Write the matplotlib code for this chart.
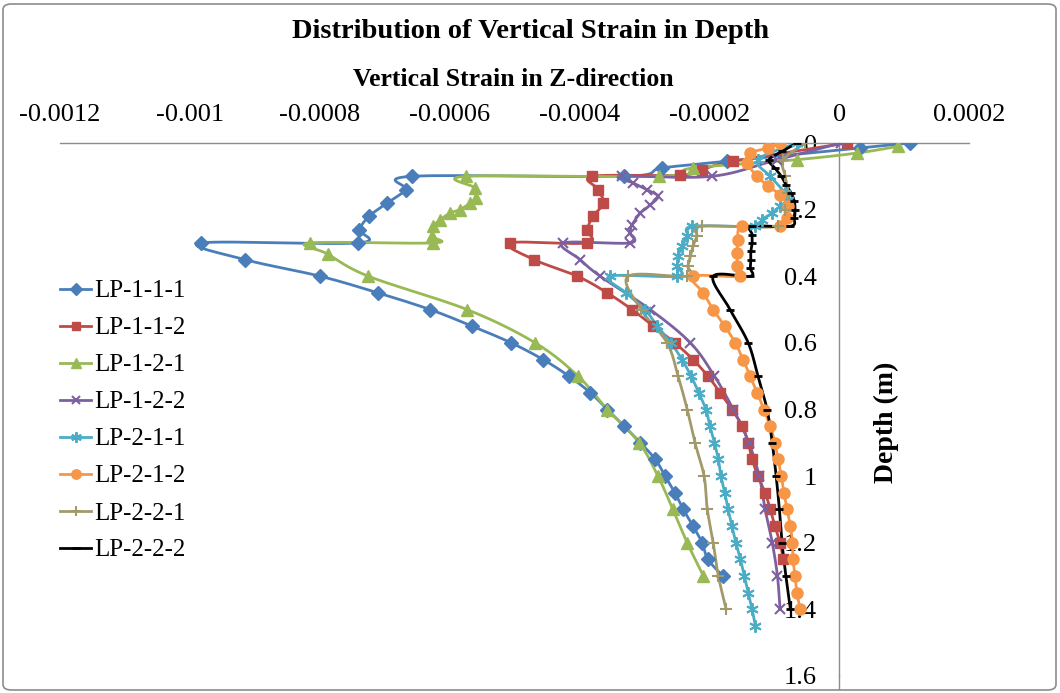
import numpy as np
import matplotlib
matplotlib.use("Agg")
import matplotlib.pyplot as plt
from matplotlib.lines import Line2D
from matplotlib.patches import FancyBboxPatch

plt.rcParams['font.family'] = ['Liberation Serif', 'DejaVu Serif']

# ---------------- data: depth (m) and vertical strain for each test ----------------
series_names = ['LP-1-1-1', 'LP-1-1-2', 'LP-1-2-1', 'LP-1-2-2',
                'LP-2-1-1', 'LP-2-1-2', 'LP-2-2-1', 'LP-2-2-2']

lp111_depth = [0, 0.015, 0.055, 0.075, 0.1, 0.1, 0.14, 0.18, 0.22, 0.26, 0.3, 0.3,
               0.35, 0.4, 0.45, 0.5, 0.55, 0.6, 0.65, 0.7, 0.75, 0.8, 0.85, 0.9,
               0.95, 1.0, 1.05, 1.1, 1.15, 1.2, 1.25, 1.3]
lp111_strain = [1.09e-4, 3.2e-5, -1.72e-4, -2.73e-4, -3.31e-4, -6.58e-4, -6.67e-4,
                -6.96e-4, -7.24e-4, -7.39e-4, -7.41e-4, -9.83e-4, -9.15e-4, -7.99e-4,
                -7.10e-4, -6.30e-4, -5.65e-4, -5.05e-4, -4.56e-4, -4.16e-4, -3.83e-4,
                -3.57e-4, -3.31e-4, -3.06e-4, -2.83e-4, -2.68e-4, -2.53e-4, -2.40e-4,
                -2.25e-4, -2.11e-4, -2.02e-4, -1.79e-4]

lp112_depth = [0, 0.055, 0.08, 0.097, 0.1, 0.14, 0.18, 0.22, 0.26, 0.3, 0.3, 0.35,
               0.4, 0.45, 0.5, 0.55, 0.6, 0.65, 0.7, 0.75, 0.8, 0.85, 0.9, 0.95,
               1.0, 1.05, 1.1, 1.15, 1.2, 1.25]
lp112_strain = [1.2e-5, -1.63e-4, -2.11e-4, -2.45e-4, -3.80e-4, -3.71e-4, -3.63e-4,
                -3.79e-4, -3.88e-4, -3.88e-4, -5.07e-4, -4.70e-4, -4.03e-4, -3.57e-4,
                -3.19e-4, -2.86e-4, -2.53e-4, -2.25e-4, -2.02e-4, -1.83e-4, -1.65e-4,
                -1.49e-4, -1.40e-4, -1.34e-4, -1.25e-4, -1.14e-4, -1.06e-4, -9.9e-5,
                -9.1e-5, -8.6e-5]

lp121_depth = [0.01, 0.03, 0.05, 0.075, 0.1, 0.1, 0.135, 0.165, 0.18, 0.2, 0.21,
               0.23, 0.25, 0.28, 0.3, 0.3, 0.333, 0.4, 0.5, 0.6, 0.7, 0.8, 0.9,
               1.0, 1.1, 1.2, 1.3]
lp121_strain = [9.1e-5, 2.8e-5, -6.5e-5, -2.25e-4, -2.77e-4, -5.74e-4, -5.61e-4,
                -5.59e-4, -5.68e-4, -5.84e-4, -5.99e-4, -6.14e-4, -6.25e-4, -6.27e-4,
                -6.25e-4, -8.15e-4, -7.88e-4, -7.25e-4, -5.73e-4, -4.68e-4, -4.02e-4,
                -3.57e-4, -3.08e-4, -2.79e-4, -2.56e-4, -2.34e-4, -2.09e-4]

lp122_depth = [0, 0.05, 0.1, 0.1, 0.12, 0.14, 0.16, 0.186, 0.21, 0.246, 0.27, 0.3,
               0.3, 0.35, 0.4, 0.5, 0.6, 0.7, 0.8, 0.9, 1.0, 1.1, 1.2, 1.3, 1.4]
lp122_strain = [3e-6, -9.5e-5, -1.96e-4, -3.34e-4, -3.17e-4, -2.96e-4, -2.79e-4,
                -2.91e-4, -3.06e-4, -3.19e-4, -3.22e-4, -3.22e-4, -4.25e-4, -3.99e-4,
                -3.68e-4, -2.91e-4, -2.29e-4, -1.92e-4, -1.63e-4, -1.39e-4, -1.23e-4,
                -1.14e-4, -1.03e-4, -9.5e-5, -9.1e-5]

lp211_depth = [0, 0.05, 0.1, 0.15, 0.17, 0.19, 0.21, 0.23, 0.25, 0.25, 0.28, 0.31,
               0.34, 0.37, 0.4, 0.4, 0.45, 0.5, 0.55, 0.6, 0.65, 0.7, 0.75, 0.8,
               0.85, 0.9, 0.95, 1.0, 1.05, 1.1, 1.15, 1.2, 1.25, 1.3, 1.35, 1.4, 1.45]
lp211_strain = [-6.5e-5, -1.25e-4, -1.06e-4, -8.3e-5, -7.9e-5, -9.1e-5, -1.03e-4,
                -1.19e-4, -1.29e-4, -2.26e-4, -2.34e-4, -2.42e-4, -2.48e-4, -2.49e-4,
                -2.49e-4, -3.53e-4, -3.28e-4, -2.99e-4, -2.80e-4, -2.59e-4, -2.42e-4,
                -2.28e-4, -2.16e-4, -2.05e-4, -1.99e-4, -1.92e-4, -1.86e-4, -1.82e-4,
                -1.76e-4, -1.71e-4, -1.65e-4, -1.59e-4, -1.52e-4, -1.46e-4, -1.40e-4,
                -1.34e-4, -1.29e-4]

lp212_depth = [0, 0.015, 0.03, 0.06, 0.1, 0.13, 0.156, 0.19, 0.225, 0.25, 0.25, 0.29,
               0.33, 0.37, 0.4, 0.4, 0.45, 0.5, 0.55, 0.6, 0.65, 0.7, 0.75, 0.8,
               0.85, 0.9, 0.95, 1.0, 1.05, 1.1, 1.15, 1.2, 1.25, 1.3, 1.35, 1.4]
lp212_strain = [-9.1e-5, -1.09e-4, -1.37e-4, -1.42e-4, -1.26e-4, -1.09e-4, -9.1e-5,
                -7.9e-5, -8.0e-5, -9.1e-5, -1.49e-4, -1.56e-4, -1.57e-4, -1.57e-4,
                -1.52e-4, -2.25e-4, -2.09e-4, -1.94e-4, -1.76e-4, -1.60e-4, -1.48e-4,
                -1.37e-4, -1.26e-4, -1.16e-4, -1.06e-4, -9.9e-5, -9.4e-5, -8.9e-5,
                -8.5e-5, -8.0e-5, -7.5e-5, -7.2e-5, -7.1e-5, -6.8e-5, -6.5e-5, -6.0e-5]

lp221_depth = [0, 0.05, 0.1, 0.15, 0.2, 0.25, 0.25, 0.28, 0.31, 0.34, 0.37, 0.4,
               0.4, 0.5, 0.6, 0.7, 0.8, 0.9, 1.0, 1.1, 1.2, 1.3, 1.4]
lp221_strain = [-5.2e-5, -8.6e-5, -8.3e-5, -7.9e-5, -8.3e-5, -9.4e-5, -2.11e-4,
                -2.19e-4, -2.25e-4, -2.29e-4, -2.33e-4, -2.34e-4, -3.25e-4, -3.05e-4,
                -2.65e-4, -2.48e-4, -2.34e-4, -2.22e-4, -2.08e-4, -2.03e-4, -1.94e-4,
                -1.86e-4, -1.74e-4]

lp222_depth = [0, 0.025, 0.05, 0.075, 0.1, 0.125, 0.15, 0.175, 0.2, 0.225, 0.25,
               0.25, 0.275, 0.3, 0.325, 0.35, 0.375, 0.4, 0.4, 0.5, 0.6, 0.7, 0.8,
               0.9, 1.0, 1.1, 1.2, 1.3, 1.4]
lp222_strain = [-6.5e-5, -8.8e-5, -1.08e-4, -9.9e-5, -8.9e-5, -8.2e-5, -7.4e-5,
                -6.9e-5, -6.8e-5, -6.9e-5, -7.5e-5, -1.34e-4, -1.34e-4, -1.34e-4,
                -1.36e-4, -1.36e-4, -1.37e-4, -1.37e-4, -1.94e-4, -1.68e-4, -1.40e-4,
                -1.25e-4, -1.11e-4, -1.03e-4, -9.7e-5, -9.2e-5, -8.8e-5, -8.2e-5,
                -7.5e-5]

x_ticks = [-0.0012, -0.001, -0.0008, -0.0006, -0.0004, -0.0002, 0, 0.0002]
x_tick_labels = ['-0.0012', '-0.001', '-0.0008', '-0.0006', '-0.0004', '-0.0002', '0', '0.0002']
y_ticks = [0, 0.2, 0.4, 0.6, 0.8, 1.0, 1.2, 1.4, 1.6]
y_tick_labels = ['0', '0.2', '0.4', '0.6', '0.8', '1', '1.2', '1.4', '1.6']

series_data = [
    (lp111_strain, lp111_depth),
    (lp112_strain, lp112_depth),
    (lp121_strain, lp121_depth),
    (lp122_strain, lp122_depth),
    (lp211_strain, lp211_depth),
    (lp212_strain, lp212_depth),
    (lp221_strain, lp221_depth),
    (lp222_strain, lp222_depth),
]

# ---------------- styles ----------------
styles = [
    dict(color='#4A7EBB', marker='D', ms=7.0, mew=1.0),
    dict(color='#BE4B48', marker='s', ms=7.5, mew=1.0),
    dict(color='#98B954', marker='^', ms=8.5, mew=1.0),
    dict(color='#7D60A0', marker='x', ms=7.5, mew=1.5),
    dict(color='#4BACC6', marker=(6, 2, 0), ms=9.0, mew=1.4),
    dict(color='#F79646', marker='o', ms=8.0, mew=1.0),
    dict(color='#A29A6A', marker='+', ms=9.0, mew=1.5),
    dict(color='#000000', marker='_', ms=6.0, mew=2.0),
]


def smooth_curve(x, y, steps=14):
    """Cubic Bezier smoothing through all points (Catmull-Rom tangents)."""
    pts = np.column_stack([x, y]).astype(float)
    if len(pts) < 3:
        return pts[:, 0], pts[:, 1]
    P = np.vstack([pts[0], pts, pts[-1]])
    t = np.linspace(0, 1, steps + 1)[1:][:, None]
    out = [pts[0:1]]
    for i in range(1, len(P) - 2):
        p0, p1, p2, p3 = P[i - 1], P[i], P[i + 1], P[i + 2]
        c1 = p1 + (p2 - p0) / 6.0
        c2 = p2 - (p3 - p1) / 6.0
        seg = ((1 - t) ** 3) * p1 + 3 * (1 - t) ** 2 * t * c1 + 3 * (1 - t) * t ** 2 * c2 + t ** 3 * p2
        out.append(seg)
    out = np.vstack(out)
    return out[:, 0], out[:, 1]


W, H = 1060, 693
fig = plt.figure(figsize=(W / 100, H / 100), dpi=100)
fig.patch.set_facecolor('white')

# outer chart border
fig.patches.append(FancyBboxPatch((3 / W, 3 / H), 1 - 7 / W, 1 - 7 / H,
                                  boxstyle='round,pad=0,rounding_size=0.008',
                                  transform=fig.transFigure, fill=False,
                                  edgecolor='#8C8C8C', linewidth=1.2))

ax = fig.add_axes([60 / W, 17 / H, 909 / W, 533 / H])
ax.set_xlim(-0.0012, 0.0002)
ax.set_ylim(1.6, 0)

for (sx, sy), st in zip(series_data, styles):
    cx, cy = smooth_curve(sx, sy)
    ax.plot(cx, cy, color=st['color'], lw=2.0, zorder=4, solid_capstyle='round')
    ax.plot(sx, sy, linestyle='none', marker=st['marker'], markersize=st['ms'],
            markeredgewidth=st['mew'], color=st['color'], markeredgecolor=st['color'],
            zorder=5)

# axes: strain axis on top, depth axis crossing at zero strain
for side in ('right', 'bottom'):
    ax.spines[side].set_visible(False)
ax.spines['top'].set_color('#8C8C8C')
ax.spines['top'].set_linewidth(1.0)
ax.spines['left'].set_position(('data', 0))
ax.spines['left'].set_color('#8C8C8C')
ax.spines['left'].set_linewidth(1.0)
ax.plot([0, 0], [1.6, 1.64], color='#8C8C8C', lw=1.0, clip_on=False, zorder=1)

ax.xaxis.tick_top()
ax.set_xticks(x_ticks)
ax.set_xticklabels(x_tick_labels)
ax.set_yticks(y_ticks)
ax.set_yticklabels(y_tick_labels)
ax.tick_params(axis='x', length=0, pad=12, labelsize=19)
ax.tick_params(axis='y', length=0, pad=16, labelsize=19)

fig.text(530 / W, 1 - 31 / H, 'Distribution of Vertical Strain in Depth',
         ha='center', va='center', fontsize=20.5, fontweight='bold')
fig.text(513 / W, 1 - 79 / H, 'Vertical Strain in Z-direction',
         ha='center', va='center', fontsize=18.5, fontweight='bold')
fig.text(886 / W, 1 - 422 / H, 'Depth (m)', rotation=90,
         ha='center', va='center', fontsize=20, fontweight='bold')

handles = [Line2D([], [], color=st['color'], lw=2.0, marker=st['marker'],
                  markersize=st['ms'] * 0.85, markeredgewidth=st['mew'])
           for st in styles]
fig.legend(handles, series_names, loc='upper left',
           bbox_to_anchor=(60 / W, 1 - 280 / H), frameon=False,
           fontsize=18, handlelength=1.25, handletextpad=0.1,
           labelspacing=0.58, borderpad=0, borderaxespad=0)

fig.savefig('out.png', dpi=100)
